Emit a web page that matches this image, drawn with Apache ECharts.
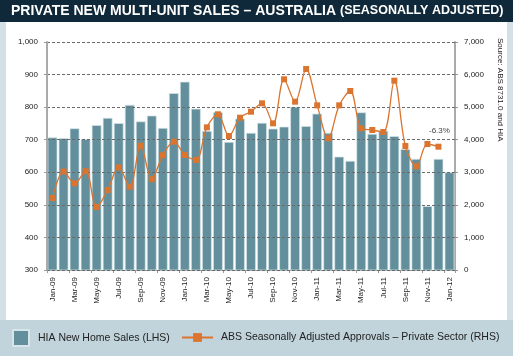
<!DOCTYPE html>
<html>
<head>
<meta charset="utf-8">
<script src="https://cdn.jsdelivr.net/npm/echarts@6/dist/echarts.min.js"></script>
<style>
html,body{margin:0;padding:0;background:#fff;}
#c{width:513px;height:356px;}
</style>
</head>
<body>
<div id="c"></div>
<script>
var categories = ['Jan-09','Feb-09','Mar-09','Apr-09','May-09','Jun-09','Jul-09','Aug-09','Sep-09','Oct-09','Nov-09','Dec-09',
  'Jan-10','Feb-10','Mar-10','Apr-10','May-10','Jun-10','Jul-10','Aug-10','Sep-10','Oct-10','Nov-10','Dec-10',
  'Jan-11','Feb-11','Mar-11','Apr-11','May-11','Jun-11','Jul-11','Aug-11','Sep-11','Oct-11','Nov-11','Dec-11','Jan-12'];
var hiaSales = [707,705,735,702,745,767,751,807,756,774,736,843,
  878,795,727,785,693,765,721,752,734,740,801,742,
  780,721,648,635,784,718,727,711,671,641,496,641,600];
var absApprovals = [2210,3025,2662,3035,1934,2456,3150,2558,3816,2790,3521,3940,
  3530,3377,4380,4780,4114,4676,4860,5117,4503,5855,5168,6170,
  5055,4043,5055,5495,4350,4298,4237,5812,3807,3183,3868,3785,null];
var leftTicks = {min:300, max:1000, interval:100};
var rightTicks = {min:0, max:7000, interval:1000};
var seriesNames = ['HIA New Home Sales (LHS)', 'ABS Seasonally Adjusted Approvals \u2013 Private Sector (RHS)'];
var annotation = {index:35, text:'-6.3%'};

var chart = echarts.init(document.getElementById('c'), null, {renderer:'canvas'});
var fam = "'Liberation Sans', Arial, sans-serif";
var option = {
  animation:false,
  backgroundColor:'#ffffff',
  textStyle:{fontFamily:fam},
  graphic:[
    {type:'rect', shape:{x:0,y:0,width:513,height:22}, style:{fill:'#10293a'}, z:-1},
    {type:'rect', shape:{x:0,y:22,width:6,height:298}, style:{fill:'#d3e0e6'}, z:-1},
    {type:'rect', shape:{x:507,y:22,width:6,height:298}, style:{fill:'#d3e0e6'}, z:-1},
    {type:'rect', shape:{x:0,y:320,width:513,height:36}, style:{fill:'#c1d4db'}, z:-1},
    {type:'text', x:500, y:38, rotation:-Math.PI/2,
      style:{text:'Source: ABS 8731.0 and HIA', fill:'#222', font:"8px 'Liberation Sans', Arial, sans-serif", textAlign:'left', textVerticalAlign:'middle'}}
  ],
  title:{
    left:11, top:4, padding:0,
    text:'{a|PRIVATE NEW MULTI-UNIT SALES \u2013 AUSTRALIA }{b|(SEASONALLY ADJUSTED)}',
    textStyle:{
      rich:{
        a:{color:'#ffffff', fontSize:14, fontWeight:'bold', fontFamily:fam},
        b:{color:'#ffffff', fontSize:12.5, fontWeight:'bold', fontFamily:fam}
      }
    }
  },
  legend:[
    {data:[{name:seriesNames[0], icon:'rect'}], left:12, top:329, padding:0, itemWidth:16, itemHeight:16,
      textStyle:{fontSize:10.5, color:'#222', padding:[0,0,0,4]}},
    {data:[seriesNames[1]], left:181, top:332, padding:0, itemWidth:31, itemHeight:11,
      textStyle:{fontSize:10.5, color:'#222', padding:[0,0,0,3]}}
  ],
  grid:{left:47, right:58, top:42, bottom:86, containLabel:false},
  xAxis:{
    type:'category', data:categories,
    axisLine:{lineStyle:{color:'#999', width:1}},
    axisTick:{show:true, interval:1, length:3, lineStyle:{color:'#999'}},
    axisLabel:{interval:1, rotate:90, fontSize:8, color:'#222', margin:7}
  },
  yAxis:[
    {type:'value', min:leftTicks.min, max:leftTicks.max, interval:leftTicks.interval, z:3,
      axisLine:{show:true, lineStyle:{color:'#aaa', width:2}},
      axisTick:{show:true, length:3, lineStyle:{color:'#999'}},
      axisLabel:{fontSize:8, color:'#222', margin:9,
        formatter:function(v){return v.toLocaleString('en-US');}},
      splitLine:{show:true, lineStyle:{color:'#6a6a6a', width:1, type:[3,2]}}
    },
    {type:'value', min:rightTicks.min, max:rightTicks.max, interval:rightTicks.interval, position:'right',
      axisLine:{show:true, lineStyle:{color:'#aaa', width:2}},
      axisTick:{show:true, length:3, lineStyle:{color:'#999'}},
      axisLabel:{fontSize:8, color:'#222', margin:9,
        formatter:function(v){return v.toLocaleString('en-US');}},
      splitLine:{show:false}
    }
  ],
  series:[
    {name:seriesNames[0], type:'bar', data:hiaSales, yAxisIndex:0, z:2,
      barCategoryGap:'12%',
      itemStyle:{color:'#628f9b', borderColor:'#d6e5ea', borderWidth:0.7}},
    {name:seriesNames[1], type:'line', data:absApprovals, yAxisIndex:1, z:5,
      smooth:0.35, symbol:'rect', symbolSize:6, showSymbol:true,
      lineStyle:{color:'#db742f', width:1.3},
      itemStyle:{color:'#db742f'},
      markPoint:{symbol:'rect', symbolSize:0,
        data:[{coord:[annotation.index, absApprovals[annotation.index]]}],
        label:{show:true, formatter:annotation.text, color:'#444', fontSize:8, position:'inside', offset:[1,-16]}}
    }
  ]
};
chart.setOption(option);
</script>
</body>
</html>
